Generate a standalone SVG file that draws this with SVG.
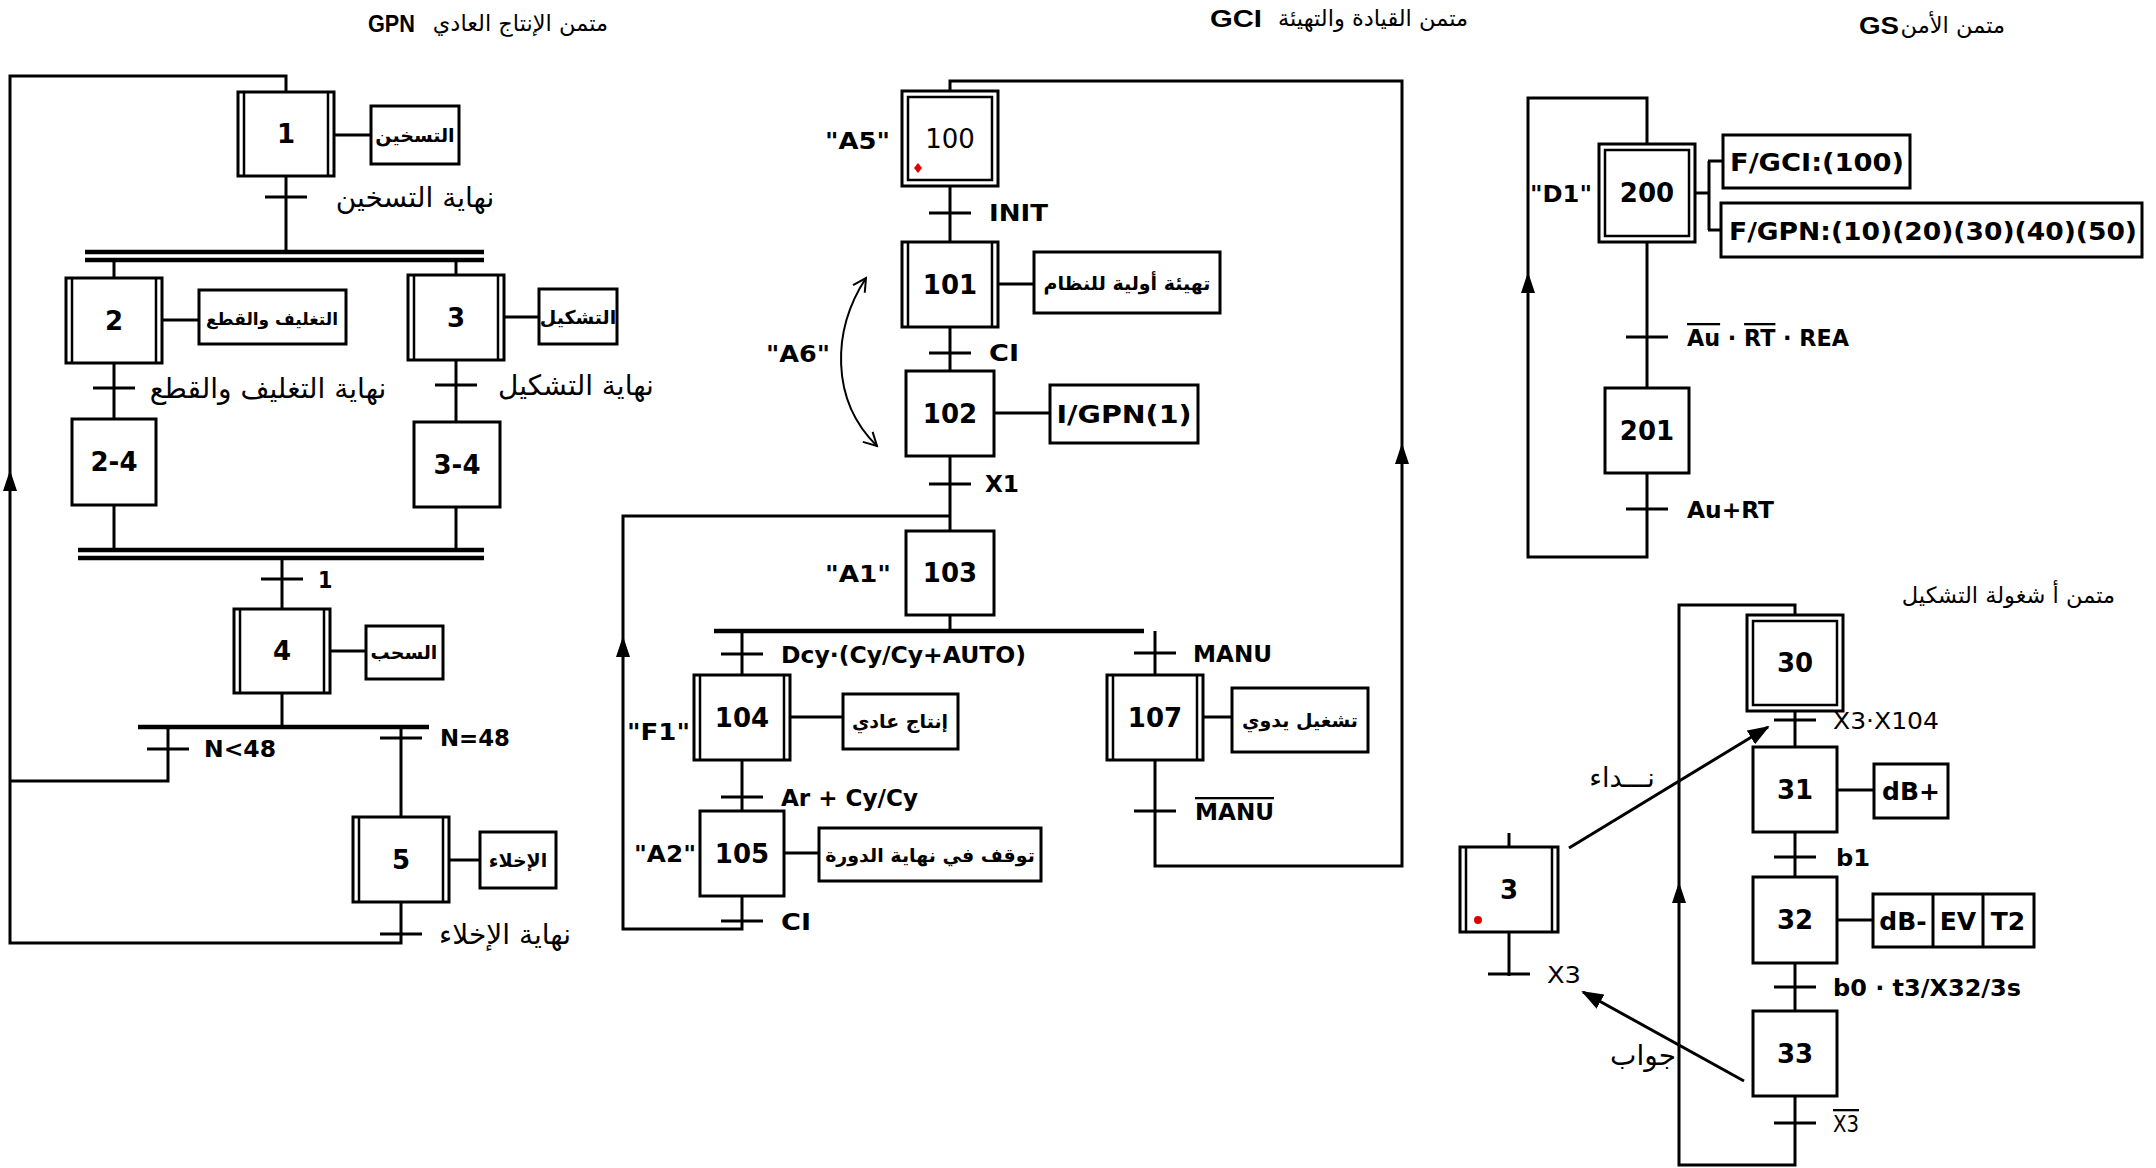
<svg xmlns="http://www.w3.org/2000/svg" xmlns:xlink="http://www.w3.org/1999/xlink" width="2156" height="1168" viewBox="0 0 2156 1168">
<style>
.bg{fill:#fff}
.st{fill:#fff;stroke:#000;stroke-width:3}
.ln{fill:none;stroke:#000;stroke-width:3}
.db{fill:none;stroke:#000;stroke-width:2.5}
.bar{stroke:#000;stroke-width:4.5}
.num{font-family:"DejaVu Sans",sans-serif;font-weight:bold;font-size:26px;text-anchor:middle;fill:#000}
.numr{font-family:"DejaVu Sans",sans-serif;font-size:26px;text-anchor:middle;fill:#000}
.lab{font-family:"DejaVu Sans Condensed","DejaVu Sans",sans-serif;font-weight:bold;font-size:23px;fill:#000}
.labn{font-family:"DejaVu Sans Condensed","DejaVu Sans",sans-serif;font-size:23px;fill:#000}
.act{font-family:"DejaVu Sans",sans-serif;font-weight:bold;font-size:25px;text-anchor:middle;fill:#000}
.ar{font-family:"DejaVu Sans",sans-serif;font-size:28px;fill:#000}
.arb{font-family:"DejaVu Sans",sans-serif;font-size:19px;font-weight:bold;text-anchor:middle;fill:#000}
.ttl{font-family:"DejaVu Sans",sans-serif;font-size:22.5px;fill:#000}
.ttlb{font-family:"Liberation Sans",sans-serif;font-size:24px;font-weight:bold;fill:#000}
.ov{text-decoration:overline}
.red{fill:#e00000}
</style>
<defs>
<path id="au" d="M0,0 L-7,21 L7,21 Z" fill="#000"/>
<marker id="fa" markerUnits="userSpaceOnUse" markerWidth="22" markerHeight="16" refX="20" refY="8" orient="auto">
<path d="M0,0 L22,8 L0,16 Z" fill="#000"/>
</marker>
<marker id="oa" markerUnits="userSpaceOnUse" markerWidth="16" markerHeight="16" refX="14" refY="8" orient="auto-start-reverse">
<path d="M1,1 L14,8 L1,15" fill="none" stroke="#000" stroke-width="2"/>
</marker>
</defs>
<rect class="bg" x="0" y="0" width="2156" height="1168"/>

<!-- titles -->
<g id="titles">
<text class="ttlb" x="368" y="32" textLength="47" lengthAdjust="spacingAndGlyphs">GPN</text>
<text class="ttl" x="608" y="31" text-anchor="end">متمن الإنتاج العادي</text>
<text class="ttlb" x="1210" y="27" textLength="52" lengthAdjust="spacingAndGlyphs">GCI</text>
<text class="ttl" x="1468" y="26" text-anchor="end">متمن القيادة والتهيئة</text>
<text class="ttlb" x="1859" y="34" textLength="40" lengthAdjust="spacingAndGlyphs">GS</text>
<text class="ttl" x="2005" y="33" text-anchor="end">متمن الأمن</text>
<text class="ttl" x="2115" y="603" text-anchor="end">متمن أ شغولة التشكيل</text>
</g>

<!-- connectors -->
<g id="connectors">
<!-- GPN -->
<path class="ln" d="M286,92 V76 H10 V943 H401 V902"/>
<path class="ln" d="M168,727 V781 H10"/>
<use xlink:href="#au" x="10" y="470"/>
<line class="ln" x1="286" y1="176" x2="286" y2="252"/>
<line class="ln" x1="265" y1="197" x2="307" y2="197"/>
<line class="bar" x1="85" y1="252" x2="484" y2="252"/>
<line class="bar" x1="85" y1="260" x2="484" y2="260"/>
<line class="ln" x1="114" y1="260" x2="114" y2="278"/>
<line class="ln" x1="456" y1="260" x2="456" y2="275"/>
<line class="ln" x1="114" y1="363" x2="114" y2="419"/>
<line class="ln" x1="93" y1="388" x2="135" y2="388"/>
<line class="ln" x1="456" y1="360" x2="456" y2="422"/>
<line class="ln" x1="435" y1="385" x2="477" y2="385"/>
<line class="ln" x1="114" y1="505" x2="114" y2="550"/>
<line class="ln" x1="456" y1="507" x2="456" y2="550"/>
<line class="bar" x1="78" y1="550" x2="484" y2="550"/>
<line class="bar" x1="78" y1="558" x2="484" y2="558"/>
<line class="ln" x1="282" y1="558" x2="282" y2="609"/>
<line class="ln" x1="261" y1="579" x2="303" y2="579"/>
<line class="ln" x1="282" y1="693" x2="282" y2="727"/>
<line class="bar" x1="138" y1="727" x2="429" y2="727"/>
<line class="ln" x1="147" y1="749" x2="189" y2="749"/>
<line class="ln" x1="401" y1="727" x2="401" y2="817"/>
<line class="ln" x1="380" y1="738" x2="422" y2="738"/>
<line class="ln" x1="380" y1="934" x2="422" y2="934"/>
<line class="ln" x1="334" y1="135" x2="371" y2="135"/>
<line class="ln" x1="162" y1="320" x2="199" y2="320"/>
<line class="ln" x1="504" y1="317" x2="539" y2="317"/>
<line class="ln" x1="330" y1="651" x2="366" y2="651"/>
<line class="ln" x1="449" y1="860" x2="480" y2="860"/>

<!-- GCI -->
<path class="ln" d="M950,91 V81 H1402 V866 H1155 V760"/>
<use xlink:href="#au" x="1402" y="443"/>
<line class="ln" x1="950" y1="186" x2="950" y2="242"/>
<line class="ln" x1="929" y1="213" x2="971" y2="213"/>
<line class="ln" x1="950" y1="327" x2="950" y2="371"/>
<line class="ln" x1="929" y1="353" x2="971" y2="353"/>
<line class="ln" x1="950" y1="456" x2="950" y2="531"/>
<line class="ln" x1="929" y1="484" x2="971" y2="484"/>
<path class="ln" d="M950,516 H623 V929 H742 V896"/>
<use xlink:href="#au" x="623" y="636"/>
<line class="ln" x1="950" y1="615" x2="950" y2="631"/>
<line class="bar" x1="714" y1="631" x2="1144" y2="631"/>
<line class="ln" x1="742" y1="631" x2="742" y2="675"/>
<line class="ln" x1="721" y1="654" x2="763" y2="654"/>
<line class="ln" x1="1155" y1="631" x2="1155" y2="675"/>
<line class="ln" x1="1134" y1="653" x2="1176" y2="653"/>
<line class="ln" x1="742" y1="760" x2="742" y2="811"/>
<line class="ln" x1="721" y1="797" x2="763" y2="797"/>
<line class="ln" x1="721" y1="921" x2="763" y2="921"/>
<line class="ln" x1="1134" y1="811" x2="1176" y2="811"/>
<line class="ln" x1="998" y1="284" x2="1034" y2="284"/>
<line class="ln" x1="994" y1="413" x2="1050" y2="413"/>
<line class="ln" x1="790" y1="717" x2="843" y2="717"/>
<line class="ln" x1="784" y1="853" x2="819" y2="853"/>
<line class="ln" x1="1203" y1="717" x2="1232" y2="717"/>
<path d="M866,278 C832,330 830,400 877,446" fill="none" stroke="#000" stroke-width="2" marker-start="url(#oa)" marker-end="url(#oa)"/>

<!-- GS -->
<path class="ln" d="M1647,144 V98 H1528 V557 H1647 V473"/>
<use xlink:href="#au" x="1528" y="272"/>
<line class="ln" x1="1647" y1="242" x2="1647" y2="388"/>
<line class="ln" x1="1626" y1="337" x2="1668" y2="337"/>
<line class="ln" x1="1626" y1="509" x2="1668" y2="509"/>
<path class="ln" d="M1695,193 H1709 M1709,161 V230 M1708,161 H1723 M1708,230 H1721"/>

<!-- forming task -->
<path class="ln" d="M1795,615 V605 H1679 V1165 H1795 V1096"/>
<use xlink:href="#au" x="1679" y="882"/>
<line class="ln" x1="1795" y1="711" x2="1795" y2="747"/>
<line class="ln" x1="1774" y1="720" x2="1816" y2="720"/>
<line class="ln" x1="1795" y1="832" x2="1795" y2="877"/>
<line class="ln" x1="1774" y1="857" x2="1816" y2="857"/>
<line class="ln" x1="1795" y1="963" x2="1795" y2="1011"/>
<line class="ln" x1="1774" y1="987" x2="1816" y2="987"/>
<line class="ln" x1="1774" y1="1123" x2="1816" y2="1123"/>
<line class="ln" x1="1837" y1="790" x2="1874" y2="790"/>
<line class="ln" x1="1837" y1="920" x2="1873" y2="920"/>
<line class="ln" x1="1509" y1="833" x2="1509" y2="847"/>
<line class="ln" x1="1509" y1="932" x2="1509" y2="976"/>
<line class="ln" x1="1488" y1="974" x2="1530" y2="974"/>
<line class="ln" x1="1569" y1="848" x2="1768" y2="727" marker-end="url(#fa)"/>
<line class="ln" x1="1744" y1="1081" x2="1583" y2="992" marker-end="url(#fa)"/>
</g>

<!-- GPN nodes -->
<g id="step1"><rect class="st" x="238" y="92" width="96" height="84"/><path class="db" d="M244,92 V176 M328,92 V176"/><text class="num" x="286" y="143">1</text></g>
<g id="act1"><rect class="st" x="371" y="106" width="88" height="58"/><text class="arb" x="415" y="142">التسخين</text></g>
<g id="t1"><text class="ar" x="415" y="207" text-anchor="middle">نهاية التسخين</text></g>
<g id="step2"><rect class="st" x="66" y="278" width="96" height="85"/><path class="db" d="M72,278 V363 M156,278 V363"/><text class="num" x="114" y="330">2</text></g>
<g id="act2"><rect class="st" x="199" y="290" width="147" height="54"/><text class="arb" x="272" y="325" style="font-size:17px">التغليف والقطع</text></g>
<g id="step3"><rect class="st" x="408" y="275" width="96" height="85"/><path class="db" d="M414,275 V360 M498,275 V360"/><text class="num" x="456" y="327">3</text></g>
<g id="act3"><rect class="st" x="539" y="289" width="78" height="55"/><text class="arb" x="578" y="324">التشكيل</text></g>
<g id="t2"><text class="ar" x="268" y="398" text-anchor="middle">نهاية التغليف والقطع</text></g>
<g id="t3"><text class="ar" x="576" y="395" text-anchor="middle">نهاية التشكيل</text></g>
<g id="step24"><rect class="st" x="72" y="419" width="84" height="86"/><text class="num" x="114" y="471">2-4</text></g>
<g id="step34"><rect class="st" x="414" y="422" width="86" height="85"/><text class="num" x="457" y="474">3-4</text></g>
<g id="t4"><text class="lab" x="318" y="588">1</text></g>
<g id="step4"><rect class="st" x="234" y="609" width="96" height="84"/><path class="db" d="M240,609 V693 M324,609 V693"/><text class="num" x="282" y="660">4</text></g>
<g id="act4"><rect class="st" x="366" y="626" width="77" height="53"/><text class="arb" x="404" y="659">السحب</text></g>
<g id="t5"><text class="lab" x="204" y="757" textLength="72" lengthAdjust="spacingAndGlyphs">N&lt;48</text></g>
<g id="t6"><text class="lab" x="440" y="746" textLength="70" lengthAdjust="spacingAndGlyphs">N=48</text></g>
<g id="step5"><rect class="st" x="353" y="817" width="96" height="85"/><path class="db" d="M359,817 V902 M443,817 V902"/><text class="num" x="401" y="869">5</text></g>
<g id="act5"><rect class="st" x="480" y="832" width="76" height="56"/><text class="arb" x="518" y="867">الإخلاء</text></g>
<g id="t7"><text class="ar" x="505" y="944" text-anchor="middle">نهاية الإخلاء</text></g>

<!-- GCI nodes -->
<g id="step100"><rect class="st" x="902" y="91" width="96" height="95"/><rect class="db" x="908" y="97" width="84" height="83"/><text class="numr" x="950" y="148">100</text><path class="red" d="M918,163 L922,168 L918,173 L914,168 Z"/><text class="lab" x="825" y="149" textLength="65" lengthAdjust="spacingAndGlyphs">"A5"</text></g>
<g id="tINIT"><text class="lab" x="989" y="221" textLength="59" lengthAdjust="spacingAndGlyphs">INIT</text></g>
<g id="step101"><rect class="st" x="902" y="242" width="96" height="85"/><path class="db" d="M908,242 V327 M992,242 V327"/><text class="num" x="950" y="294">101</text></g>
<g id="act101"><rect class="st" x="1034" y="252" width="186" height="61"/><text class="arb" x="1127" y="290">تهيئة أولية للنظام</text></g>
<g id="tCI1"><text class="lab" x="989" y="361" textLength="30" lengthAdjust="spacingAndGlyphs">CI</text></g>
<g id="a6"><text class="lab" x="766" y="362" textLength="64" lengthAdjust="spacingAndGlyphs">"A6"</text></g>
<g id="step102"><rect class="st" x="906" y="371" width="88" height="85"/><text class="num" x="950" y="423">102</text></g>
<g id="act102"><rect class="st" x="1050" y="385" width="148" height="58"/><text class="act" x="1124" y="423" textLength="135" lengthAdjust="spacingAndGlyphs">I/GPN(1)</text></g>
<g id="tX1"><text class="lab" x="985" y="492" textLength="34" lengthAdjust="spacingAndGlyphs">X1</text></g>
<g id="step103"><rect class="st" x="906" y="531" width="88" height="84"/><text class="num" x="950" y="582">103</text><text class="lab" x="825" y="582" textLength="66" lengthAdjust="spacingAndGlyphs">"A1"</text></g>
<g id="tDcy"><text class="lab" x="781" y="663" textLength="245" lengthAdjust="spacingAndGlyphs">Dcy·(Cy/Cy+AUTO)</text></g>
<g id="tMANU"><text class="lab" x="1193" y="662" textLength="79" lengthAdjust="spacingAndGlyphs">MANU</text></g>
<g id="step104"><rect class="st" x="694" y="675" width="96" height="85"/><path class="db" d="M700,675 V760 M784,675 V760"/><text class="num" x="742" y="727">104</text><text class="lab" x="627" y="740" textLength="63" lengthAdjust="spacingAndGlyphs">"F1"</text></g>
<g id="act104"><rect class="st" x="843" y="694" width="115" height="55"/><text class="arb" x="900" y="728">إنتاج عادي</text></g>
<g id="tAr"><text class="lab" x="781" y="806" textLength="137" lengthAdjust="spacingAndGlyphs">Ar + Cy/Cy</text></g>
<g id="step105"><rect class="st" x="700" y="811" width="84" height="85"/><text class="num" x="742" y="863">105</text><text class="lab" x="634" y="862" textLength="62" lengthAdjust="spacingAndGlyphs">"A2"</text></g>
<g id="act105"><rect class="st" x="819" y="828" width="222" height="53"/><text class="arb" x="930" y="862">توقف في نهاية الدورة</text></g>
<g id="tCI2"><text class="lab" x="781" y="930" textLength="30" lengthAdjust="spacingAndGlyphs">CI</text></g>
<g id="step107"><rect class="st" x="1107" y="675" width="96" height="85"/><path class="db" d="M1113,675 V760 M1197,675 V760"/><text class="num" x="1155" y="727">107</text></g>
<g id="act107"><rect class="st" x="1232" y="688" width="136" height="64"/><text class="arb" x="1300" y="727">تشغيل يدوي</text></g>
<g id="tMANUb"><text class="lab" x="1195" y="820" textLength="79" lengthAdjust="spacingAndGlyphs"><tspan class="ov">MANU</tspan></text></g>

<!-- GS nodes -->
<g id="step200"><rect class="st" x="1599" y="144" width="96" height="98"/><rect class="db" x="1605" y="150" width="84" height="86"/><text class="num" x="1647" y="202">200</text><text class="lab" x="1530" y="202" textLength="62" lengthAdjust="spacingAndGlyphs">"D1"</text></g>
<g id="actGCI"><rect class="st" x="1723" y="135" width="187" height="53"/><text class="act" x="1817" y="171" textLength="174" lengthAdjust="spacingAndGlyphs">F/GCI:(100)</text></g>
<g id="actGPN"><rect class="st" x="1721" y="203" width="421" height="54"/><text class="act" x="1933" y="240" textLength="408" lengthAdjust="spacingAndGlyphs">F/GPN:(10)(20)(30)(40)(50)</text></g>
<g id="tAu"><text class="lab" x="1687" y="346" textLength="162" lengthAdjust="spacingAndGlyphs"><tspan class="ov">Au</tspan> · <tspan class="ov">RT</tspan> · REA</text></g>
<g id="step201"><rect class="st" x="1605" y="388" width="84" height="85"/><text class="num" x="1647" y="440">201</text></g>
<g id="tAuRT"><text class="lab" x="1687" y="518" textLength="87" lengthAdjust="spacingAndGlyphs">Au+RT</text></g>

<!-- forming task nodes -->
<g id="step30"><rect class="st" x="1747" y="615" width="96" height="96"/><rect class="db" x="1753" y="621" width="84" height="84"/><text class="num" x="1795" y="672">30</text></g>
<g id="tX3X104"><text class="labn" x="1833" y="729" textLength="106" lengthAdjust="spacingAndGlyphs">X3·X104</text></g>
<g id="step31"><rect class="st" x="1753" y="747" width="84" height="85"/><text class="num" x="1795" y="799">31</text></g>
<g id="actdB"><rect class="st" x="1874" y="764" width="74" height="54"/><text class="act" x="1911" y="800">dB+</text></g>
<g id="tb1"><text class="lab" x="1836" y="866" textLength="34" lengthAdjust="spacingAndGlyphs">b1</text></g>
<g id="step32"><rect class="st" x="1753" y="877" width="84" height="86"/><text class="num" x="1795" y="929">32</text></g>
<g id="act32"><rect class="st" x="1873" y="894" width="161" height="53"/><path class="ln" d="M1933,894 V947 M1983,894 V947"/><text class="act" x="1903" y="930">dB-</text><text class="act" x="1958" y="930">EV</text><text class="act" x="2008" y="930">T2</text></g>
<g id="tb0"><text class="lab" x="1833" y="996" textLength="188" lengthAdjust="spacingAndGlyphs">b0 · t3/X32/3s</text></g>
<g id="step33"><rect class="st" x="1753" y="1011" width="84" height="85"/><text class="num" x="1795" y="1063">33</text></g>
<g id="tX3b"><text class="labn" x="1833" y="1132" textLength="26" lengthAdjust="spacingAndGlyphs"><tspan class="ov">X3</tspan></text></g>
<g id="step3b"><rect class="st" x="1460" y="847" width="98" height="85"/><path class="db" d="M1466,847 V932 M1552,847 V932"/><text class="num" x="1509" y="899">3</text><circle class="red" cx="1478" cy="920" r="4"/></g>
<g id="tX3"><text class="labn" x="1547" y="983" textLength="34" lengthAdjust="spacingAndGlyphs">X3</text></g>
<g id="call"><text class="ar" x="1622" y="787" text-anchor="middle" style="font-size:27px">نـــداء</text></g>
<g id="reply"><text class="ar" x="1643" y="1065" text-anchor="middle" style="font-size:28px">جواب</text></g>
</svg>
